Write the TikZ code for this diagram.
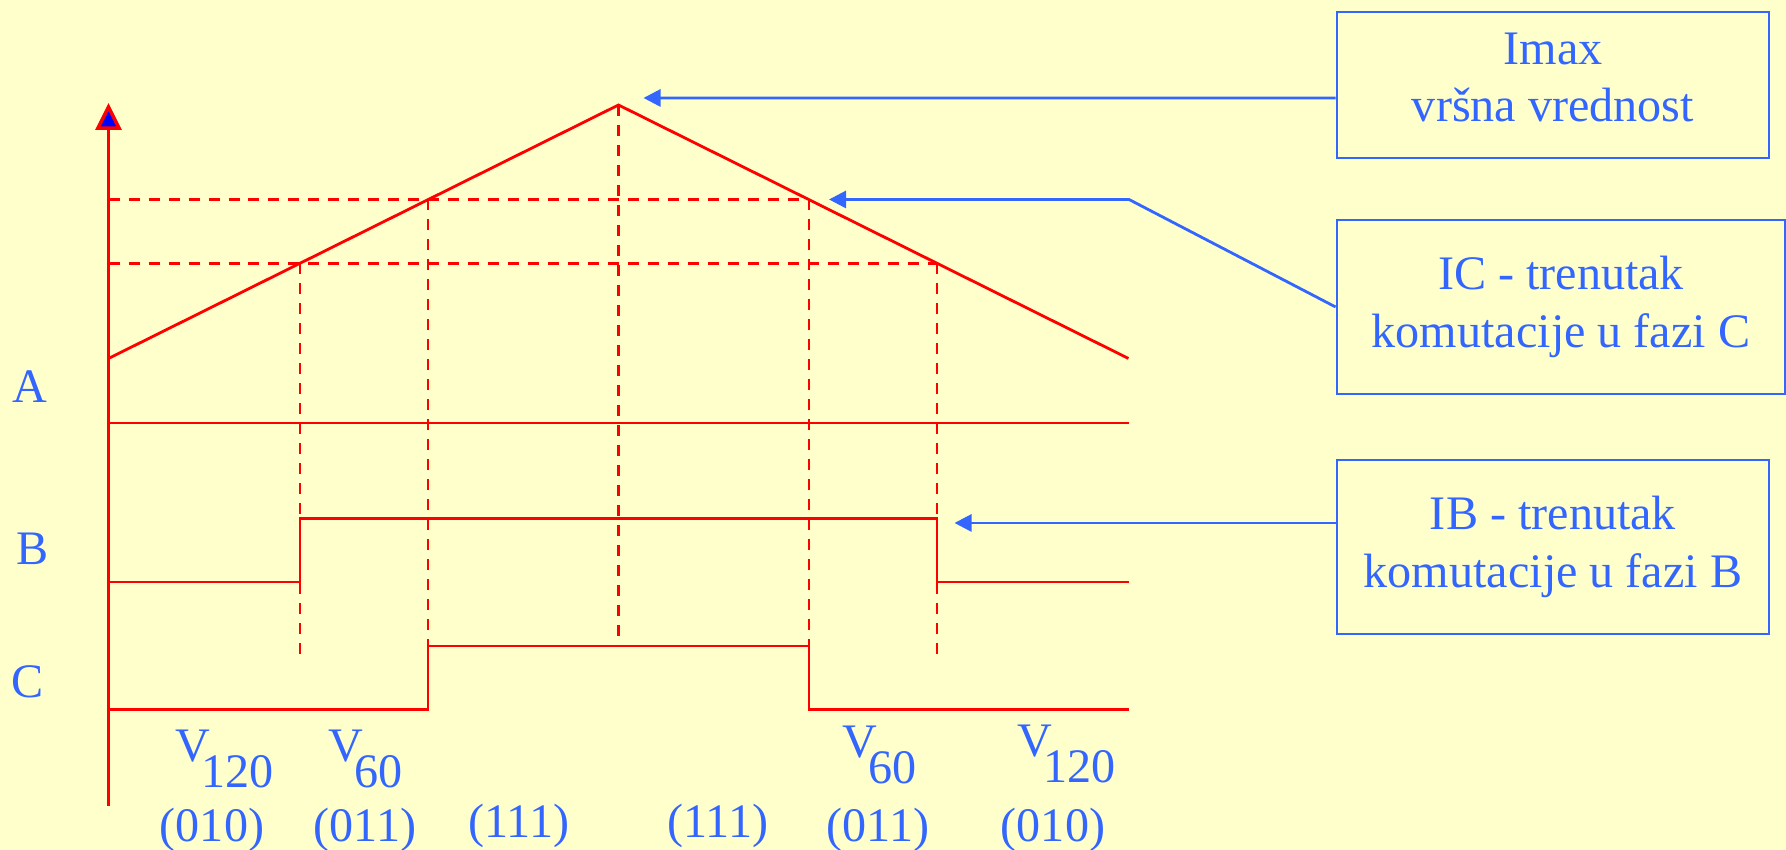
\documentclass[tikz,border=0pt]{standalone}
\usepackage{fontspec}
\setmainfont{Liberation Serif}
\usepackage{xcolor}
\usetikzlibrary{arrows.meta}
\definecolor{fondo}{RGB}{255,255,204}
\definecolor{azul}{RGB}{51,102,255}
\newcommand{\vsub}[2]{#1\kern-0.09cm\raisebox{-0.26cm}{#2}}

\begin{document}
\begin{tikzpicture}[
  senal/.style={red, line width=0.8pt},
  guia/.style={red, line width=0.8pt, dash pattern=on 0.11cm off 0.09cm},
  caja/.style={draw=azul, line width=0.8pt, text=azul, align=center, inner sep=0pt, font=\fontsize{13.7}{16.3}\selectfont},
  flecha/.style={azul, line width=0.8pt, -{Triangle[length=1.7mm,width=1.7mm]}},
  etiq/.style={text=azul, inner sep=0pt, font=\fontsize{13.7}{16}\selectfont}
]
  % Fondo
  \fill[fondo] (0,0) rectangle (17.86,8.5);
  \useasboundingbox (0,0) rectangle (17.86,8.5);

  % Eje
  \draw[red, line width=0.8pt, -{Triangle[length=2.7mm,width=2.6mm,fill=blue,line width=1pt]}] (1.085,0.44) -- (1.085,7.47);

  % Corriente
  \coordinate (pico) at (6.185,7.45);
  \draw[senal] (1.085,4.915) -- (pico) -- (11.285,4.915);

  % Niveles de conmutación
  \draw[guia] (1.085,6.505) -- (8.09,6.505);
  \draw[guia] (1.085,5.865) -- (9.37,5.865);
  \draw[guia] (3.00,5.865) -- (3.00,1.88);
  \draw[guia] (4.28,6.505) -- (4.28,2.04);
  \draw[guia] (pico) -- (6.185,2.04);
  \draw[guia] (8.09,6.505) -- (8.09,2.04);
  \draw[guia] (9.37,5.865) -- (9.37,1.88);

  % Fases A, B, C
  \draw[senal] (1.085,4.27) -- (11.285,4.27);
  \draw[senal] (1.085,2.68) -- (3.00,2.68) -- (3.00,3.315) -- (9.37,3.315) -- (9.37,2.68) -- (11.285,2.68);
  \draw[senal] (1.085,1.405) -- (4.28,1.405) -- (4.28,2.04) -- (8.09,2.04) -- (8.09,1.405) -- (11.285,1.405);

  \node[etiq, anchor=base] (faseA) at (0.30,4.47) {A};
  \node[etiq, anchor=base] (faseB) at (0.33,2.85) {B};
  \node[etiq, anchor=base] (faseC) at (0.28,1.52) {C};

  % Vectores
  \node[etiq, anchor=base west] (v120a) at (1.75,0.88) {\vsub{V}{120}};
  \node[etiq, anchor=base west] (v60a) at (3.28,0.88) {\vsub{V}{60}};
  \node[etiq, anchor=base west] (v60b) at (8.42,0.92) {\vsub{V}{60}};
  \node[etiq, anchor=base west] (v120b) at (10.17,0.93) {\vsub{V}{120}};

  \node[etiq, anchor=base] (s010a) at (2.12,0.08) {(010)};
  \node[etiq, anchor=base] (s011a) at (3.65,0.08) {(011)};
  \node[etiq, anchor=base] (s111a) at (5.19,0.12) {(111)};
  \node[etiq, anchor=base] (s111b) at (7.18,0.12) {(111)};
  \node[etiq, anchor=base] (s011b) at (8.78,0.08) {(011)};
  \node[etiq, anchor=base] (s010b) at (10.53,0.08) {(010)};

  % Cajas
  \node[caja, minimum width=4.32cm, minimum height=1.46cm] (imax) at (15.53,7.65) {Imax\\vršna vrednost\rule[-0.16cm]{0pt}{0pt}};
  \node[caja, minimum width=4.48cm, minimum height=1.74cm] (ic) at (15.61,5.43) {IC - trenutak\\komutacije u fazi C};
  \node[caja, minimum width=4.32cm, minimum height=1.74cm] (ib) at (15.53,3.03) {IB - trenutak\\komutacije u fazi B};

  % Flechas
  \coordinate (pImax) at (6.435,7.52);
  \coordinate (quiebre) at (11.29,6.505);
  \coordinate (pIC) at (8.29,6.505);
  \coordinate (pIB) at (9.545,3.27);
  \draw[flecha] ([yshift=-0.13cm]imax.west) -- (pImax);
  \draw[flecha] (ic.west) -- (quiebre) -- (pIC);
  \draw[flecha] ([yshift=0.24cm]ib.west) -- (pIB);
\end{tikzpicture}
\end{document}
